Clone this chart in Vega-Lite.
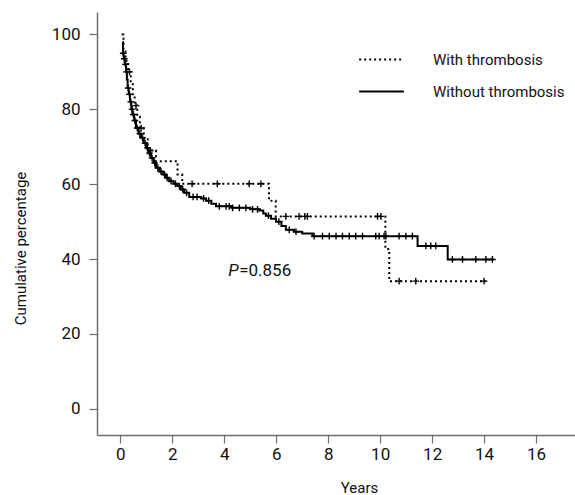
{
  "$schema": "https://vega.github.io/schema/vega-lite/v6.json",
  "width": 478,
  "height": 423,
  "autosize": "none",
  "padding": {"left": 97, "top": 12, "right": 0, "bottom": 60},
  "background": "white",
  "config": {
    "view": {"stroke": null},
    "font": "Roboto",
    "axis": {
      "grid": false,
      "domainColor": "#6e6e6e",
      "domainWidth": 1.5,
      "tickColor": "#6e6e6e",
      "tickWidth": 1.2,
      "tickSize": 8,
      "labelFont": "Roboto",
      "labelFontSize": 17,
      "labelColor": "#111",
      "titleFont": "Roboto",
      "titleFontSize": 15,
      "titleFontWeight": "normal",
      "titleColor": "#111"
    }
  },
  "datasets": {
    "curves": [
      {"group": "With thrombosis", "t": 0.05, "s": 100},
      {"group": "With thrombosis", "t": 0.12, "s": 96},
      {"group": "With thrombosis", "t": 0.2, "s": 93},
      {"group": "With thrombosis", "t": 0.3, "s": 90},
      {"group": "With thrombosis", "t": 0.4, "s": 87},
      {"group": "With thrombosis", "t": 0.48, "s": 84},
      {"group": "With thrombosis", "t": 0.55, "s": 81},
      {"group": "With thrombosis", "t": 0.65, "s": 78},
      {"group": "With thrombosis", "t": 0.75, "s": 75},
      {"group": "With thrombosis", "t": 0.9, "s": 72},
      {"group": "With thrombosis", "t": 1.05, "s": 69},
      {"group": "With thrombosis", "t": 1.37, "s": 66.1},
      {"group": "With thrombosis", "t": 2.2, "s": 62.6},
      {"group": "With thrombosis", "t": 2.38, "s": 60.1},
      {"group": "With thrombosis", "t": 5.72, "s": 55.6},
      {"group": "With thrombosis", "t": 5.98, "s": 51.4},
      {"group": "With thrombosis", "t": 10.2, "s": 42.7},
      {"group": "With thrombosis", "t": 10.35, "s": 34.1},
      {"group": "With thrombosis", "t": 14.07, "s": 34.1},
      {"group": "Without thrombosis", "t": 0.08, "s": 98},
      {"group": "Without thrombosis", "t": 0.1, "s": 95},
      {"group": "Without thrombosis", "t": 0.13, "s": 93.5},
      {"group": "Without thrombosis", "t": 0.17, "s": 92},
      {"group": "Without thrombosis", "t": 0.22, "s": 90},
      {"group": "Without thrombosis", "t": 0.25, "s": 88},
      {"group": "Without thrombosis", "t": 0.28, "s": 85.7},
      {"group": "Without thrombosis", "t": 0.32, "s": 84},
      {"group": "Without thrombosis", "t": 0.37, "s": 82},
      {"group": "Without thrombosis", "t": 0.42, "s": 80},
      {"group": "Without thrombosis", "t": 0.47, "s": 78.6},
      {"group": "Without thrombosis", "t": 0.53, "s": 77},
      {"group": "Without thrombosis", "t": 0.6, "s": 75},
      {"group": "Without thrombosis", "t": 0.7, "s": 73.5},
      {"group": "Without thrombosis", "t": 0.8, "s": 72.4},
      {"group": "Without thrombosis", "t": 0.9, "s": 71},
      {"group": "Without thrombosis", "t": 0.99, "s": 69.7},
      {"group": "Without thrombosis", "t": 1.08, "s": 68.3},
      {"group": "Without thrombosis", "t": 1.18, "s": 67},
      {"group": "Without thrombosis", "t": 1.27, "s": 65.7},
      {"group": "Without thrombosis", "t": 1.37, "s": 64.4},
      {"group": "Without thrombosis", "t": 1.5, "s": 63.4},
      {"group": "Without thrombosis", "t": 1.63, "s": 62.6},
      {"group": "Without thrombosis", "t": 1.75, "s": 61.7},
      {"group": "Without thrombosis", "t": 1.88, "s": 60.8},
      {"group": "Without thrombosis", "t": 2.05, "s": 60.1},
      {"group": "Without thrombosis", "t": 2.2, "s": 59.5},
      {"group": "Without thrombosis", "t": 2.33, "s": 58.6},
      {"group": "Without thrombosis", "t": 2.46, "s": 57.7},
      {"group": "Without thrombosis", "t": 2.65, "s": 56.6},
      {"group": "Without thrombosis", "t": 3.1, "s": 56.2},
      {"group": "Without thrombosis", "t": 3.3, "s": 55.6},
      {"group": "Without thrombosis", "t": 3.5, "s": 54.8},
      {"group": "Without thrombosis", "t": 3.68, "s": 54.1},
      {"group": "Without thrombosis", "t": 4.3, "s": 53.7},
      {"group": "Without thrombosis", "t": 5.0, "s": 53.3},
      {"group": "Without thrombosis", "t": 5.35, "s": 53.0},
      {"group": "Without thrombosis", "t": 5.5, "s": 52.2},
      {"group": "Without thrombosis", "t": 5.6, "s": 51.6},
      {"group": "Without thrombosis", "t": 5.8, "s": 50.8},
      {"group": "Without thrombosis", "t": 5.99, "s": 50.0},
      {"group": "Without thrombosis", "t": 6.2, "s": 48.8},
      {"group": "Without thrombosis", "t": 6.37, "s": 47.8},
      {"group": "Without thrombosis", "t": 6.7, "s": 47.3},
      {"group": "Without thrombosis", "t": 7.0, "s": 46.8},
      {"group": "Without thrombosis", "t": 7.4, "s": 46.1},
      {"group": "Without thrombosis", "t": 11.44, "s": 43.5},
      {"group": "Without thrombosis", "t": 12.6, "s": 39.9},
      {"group": "Without thrombosis", "t": 14.38, "s": 39.9}
    ],
    "censored": [
      {"group": "With thrombosis", "t": 0.35, "s": 90},
      {"group": "With thrombosis", "t": 0.6, "s": 81},
      {"group": "With thrombosis", "t": 0.8, "s": 75},
      {"group": "With thrombosis", "t": 1.15, "s": 69},
      {"group": "With thrombosis", "t": 2.76, "s": 60.1},
      {"group": "With thrombosis", "t": 3.73, "s": 60.1},
      {"group": "With thrombosis", "t": 4.96, "s": 60.1},
      {"group": "With thrombosis", "t": 5.41, "s": 60.1},
      {"group": "With thrombosis", "t": 6.37, "s": 51.4},
      {"group": "With thrombosis", "t": 6.88, "s": 51.4},
      {"group": "With thrombosis", "t": 7.1, "s": 51.4},
      {"group": "With thrombosis", "t": 7.2, "s": 51.4},
      {"group": "With thrombosis", "t": 9.9, "s": 51.4},
      {"group": "With thrombosis", "t": 10.03, "s": 51.4},
      {"group": "With thrombosis", "t": 10.73, "s": 34.1},
      {"group": "With thrombosis", "t": 11.37, "s": 34.1},
      {"group": "With thrombosis", "t": 14.0, "s": 34.1},
      {"group": "Without thrombosis", "t": 0.11, "s": 95},
      {"group": "Without thrombosis", "t": 0.15, "s": 93.5},
      {"group": "Without thrombosis", "t": 0.2, "s": 92},
      {"group": "Without thrombosis", "t": 0.24, "s": 90},
      {"group": "Without thrombosis", "t": 0.3, "s": 85.7},
      {"group": "Without thrombosis", "t": 0.35, "s": 84},
      {"group": "Without thrombosis", "t": 0.4, "s": 82},
      {"group": "Without thrombosis", "t": 0.45, "s": 80},
      {"group": "Without thrombosis", "t": 0.5, "s": 78.6},
      {"group": "Without thrombosis", "t": 0.56, "s": 77},
      {"group": "Without thrombosis", "t": 0.65, "s": 75},
      {"group": "Without thrombosis", "t": 0.75, "s": 73.5},
      {"group": "Without thrombosis", "t": 0.85, "s": 72.4},
      {"group": "Without thrombosis", "t": 0.95, "s": 71},
      {"group": "Without thrombosis", "t": 1.04, "s": 69.7},
      {"group": "Without thrombosis", "t": 1.12, "s": 68.3},
      {"group": "Without thrombosis", "t": 1.22, "s": 67},
      {"group": "Without thrombosis", "t": 1.32, "s": 65.7},
      {"group": "Without thrombosis", "t": 1.44, "s": 64.4},
      {"group": "Without thrombosis", "t": 1.56, "s": 63.4},
      {"group": "Without thrombosis", "t": 1.7, "s": 62.6},
      {"group": "Without thrombosis", "t": 1.8, "s": 61.7},
      {"group": "Without thrombosis", "t": 1.95, "s": 60.8},
      {"group": "Without thrombosis", "t": 2.12, "s": 60.1},
      {"group": "Without thrombosis", "t": 2.27, "s": 59.5},
      {"group": "Without thrombosis", "t": 2.4, "s": 58.6},
      {"group": "Without thrombosis", "t": 2.55, "s": 57.7},
      {"group": "Without thrombosis", "t": 2.8, "s": 56.6},
      {"group": "Without thrombosis", "t": 2.95, "s": 56.6},
      {"group": "Without thrombosis", "t": 3.2, "s": 56.2},
      {"group": "Without thrombosis", "t": 3.4, "s": 55.6},
      {"group": "Without thrombosis", "t": 3.81, "s": 54.1},
      {"group": "Without thrombosis", "t": 4.07, "s": 54.1},
      {"group": "Without thrombosis", "t": 4.19, "s": 54.1},
      {"group": "Without thrombosis", "t": 4.32, "s": 53.7},
      {"group": "Without thrombosis", "t": 4.58, "s": 53.7},
      {"group": "Without thrombosis", "t": 4.83, "s": 53.7},
      {"group": "Without thrombosis", "t": 5.09, "s": 53.3},
      {"group": "Without thrombosis", "t": 5.28, "s": 53.3},
      {"group": "Without thrombosis", "t": 5.7, "s": 51.6},
      {"group": "Without thrombosis", "t": 6.1, "s": 50.0},
      {"group": "Without thrombosis", "t": 6.5, "s": 47.8},
      {"group": "Without thrombosis", "t": 6.76, "s": 47.3},
      {"group": "Without thrombosis", "t": 7.46, "s": 46.1},
      {"group": "Without thrombosis", "t": 7.78, "s": 46.1},
      {"group": "Without thrombosis", "t": 8.04, "s": 46.1},
      {"group": "Without thrombosis", "t": 8.3, "s": 46.1},
      {"group": "Without thrombosis", "t": 8.55, "s": 46.1},
      {"group": "Without thrombosis", "t": 8.81, "s": 46.1},
      {"group": "Without thrombosis", "t": 9.06, "s": 46.1},
      {"group": "Without thrombosis", "t": 9.32, "s": 46.1},
      {"group": "Without thrombosis", "t": 9.83, "s": 46.1},
      {"group": "Without thrombosis", "t": 9.96, "s": 46.1},
      {"group": "Without thrombosis", "t": 10.15, "s": 46.1},
      {"group": "Without thrombosis", "t": 10.22, "s": 46.1},
      {"group": "Without thrombosis", "t": 10.73, "s": 46.1},
      {"group": "Without thrombosis", "t": 10.99, "s": 46.1},
      {"group": "Without thrombosis", "t": 11.24, "s": 46.1},
      {"group": "Without thrombosis", "t": 11.76, "s": 43.5},
      {"group": "Without thrombosis", "t": 11.95, "s": 43.5},
      {"group": "Without thrombosis", "t": 12.14, "s": 43.5},
      {"group": "Without thrombosis", "t": 12.78, "s": 39.9},
      {"group": "Without thrombosis", "t": 13.17, "s": 39.9},
      {"group": "Without thrombosis", "t": 13.68, "s": 39.9},
      {"group": "Without thrombosis", "t": 14.07, "s": 39.9},
      {"group": "Without thrombosis", "t": 14.32, "s": 39.9}
    ],
    "annot": [
      {"t": 4.15, "s": 36.8, "p": "P", "rest": "=0.856"}
    ]
  },
  "encoding": {
    "x": {
      "field": "t",
      "type": "quantitative",
      "scale": {"domain": [-0.9, 17.5], "nice": false, "zero": false},
      "axis": {
        "values": [0, 2, 4, 6, 8, 10, 12, 14, 16],
        "title": "Years",
        "titleX": 262,
        "titleY": 52,
        "titleBaseline": "middle",
        "labelPadding": 3
      }
    },
    "y": {
      "field": "s",
      "type": "quantitative",
      "scale": {"domain": [-7, 106], "nice": false, "zero": false},
      "axis": {
        "values": [0, 20, 40, 60, 80, 100],
        "title": "Cumulative percentage",
        "titleX": -77,
        "titleY": 236,
        "titleAlign": "center",
        "titleBaseline": "middle",
        "labelPadding": 9
      }
    }
  },
  "layer": [
    {
      "data": {"name": "curves"},
      "mark": {"type": "line", "interpolate": "step-after", "color": "black", "strokeWidth": 2},
      "encoding": {
        "detail": {"field": "group"},
        "strokeDash": {
          "field": "group",
          "type": "nominal",
          "scale": {"domain": ["With thrombosis", "Without thrombosis"], "range": [[2, 3], [1, 0]]},
          "legend": {
            "title": null,
            "orient": "none",
            "legendX": 261,
            "legendY": 24,
            "symbolType": "stroke",
            "symbolSize": 2000,
            "symbolStrokeWidth": 2,
            "symbolStrokeColor": "black",
            "labelFont": "Roboto",
            "labelFontSize": 15,
            "labelColor": "#111",
            "labelOffset": 28,
            "rowPadding": -20
          }
        }
      }
    },
    {
      "data": {"name": "censored"},
      "mark": {"type": "point", "shape": "M-1,0L1,0M0,-1L0,1", "filled": false, "color": "black", "strokeWidth": 1.4, "size": 45, "opacity": 1}
    },
    {
      "data": {"name": "annot"},
      "mark": {"type": "text", "align": "left", "baseline": "middle", "fontSize": 17, "fontStyle": "italic", "font": "Roboto", "color": "#111"},
      "encoding": {"text": {"field": "p"}}
    },
    {
      "data": {"name": "annot"},
      "mark": {"type": "text", "align": "left", "baseline": "middle", "fontSize": 17, "dx": 11, "font": "Roboto", "color": "#111"},
      "encoding": {"text": {"field": "rest"}}
    }
  ]
}
